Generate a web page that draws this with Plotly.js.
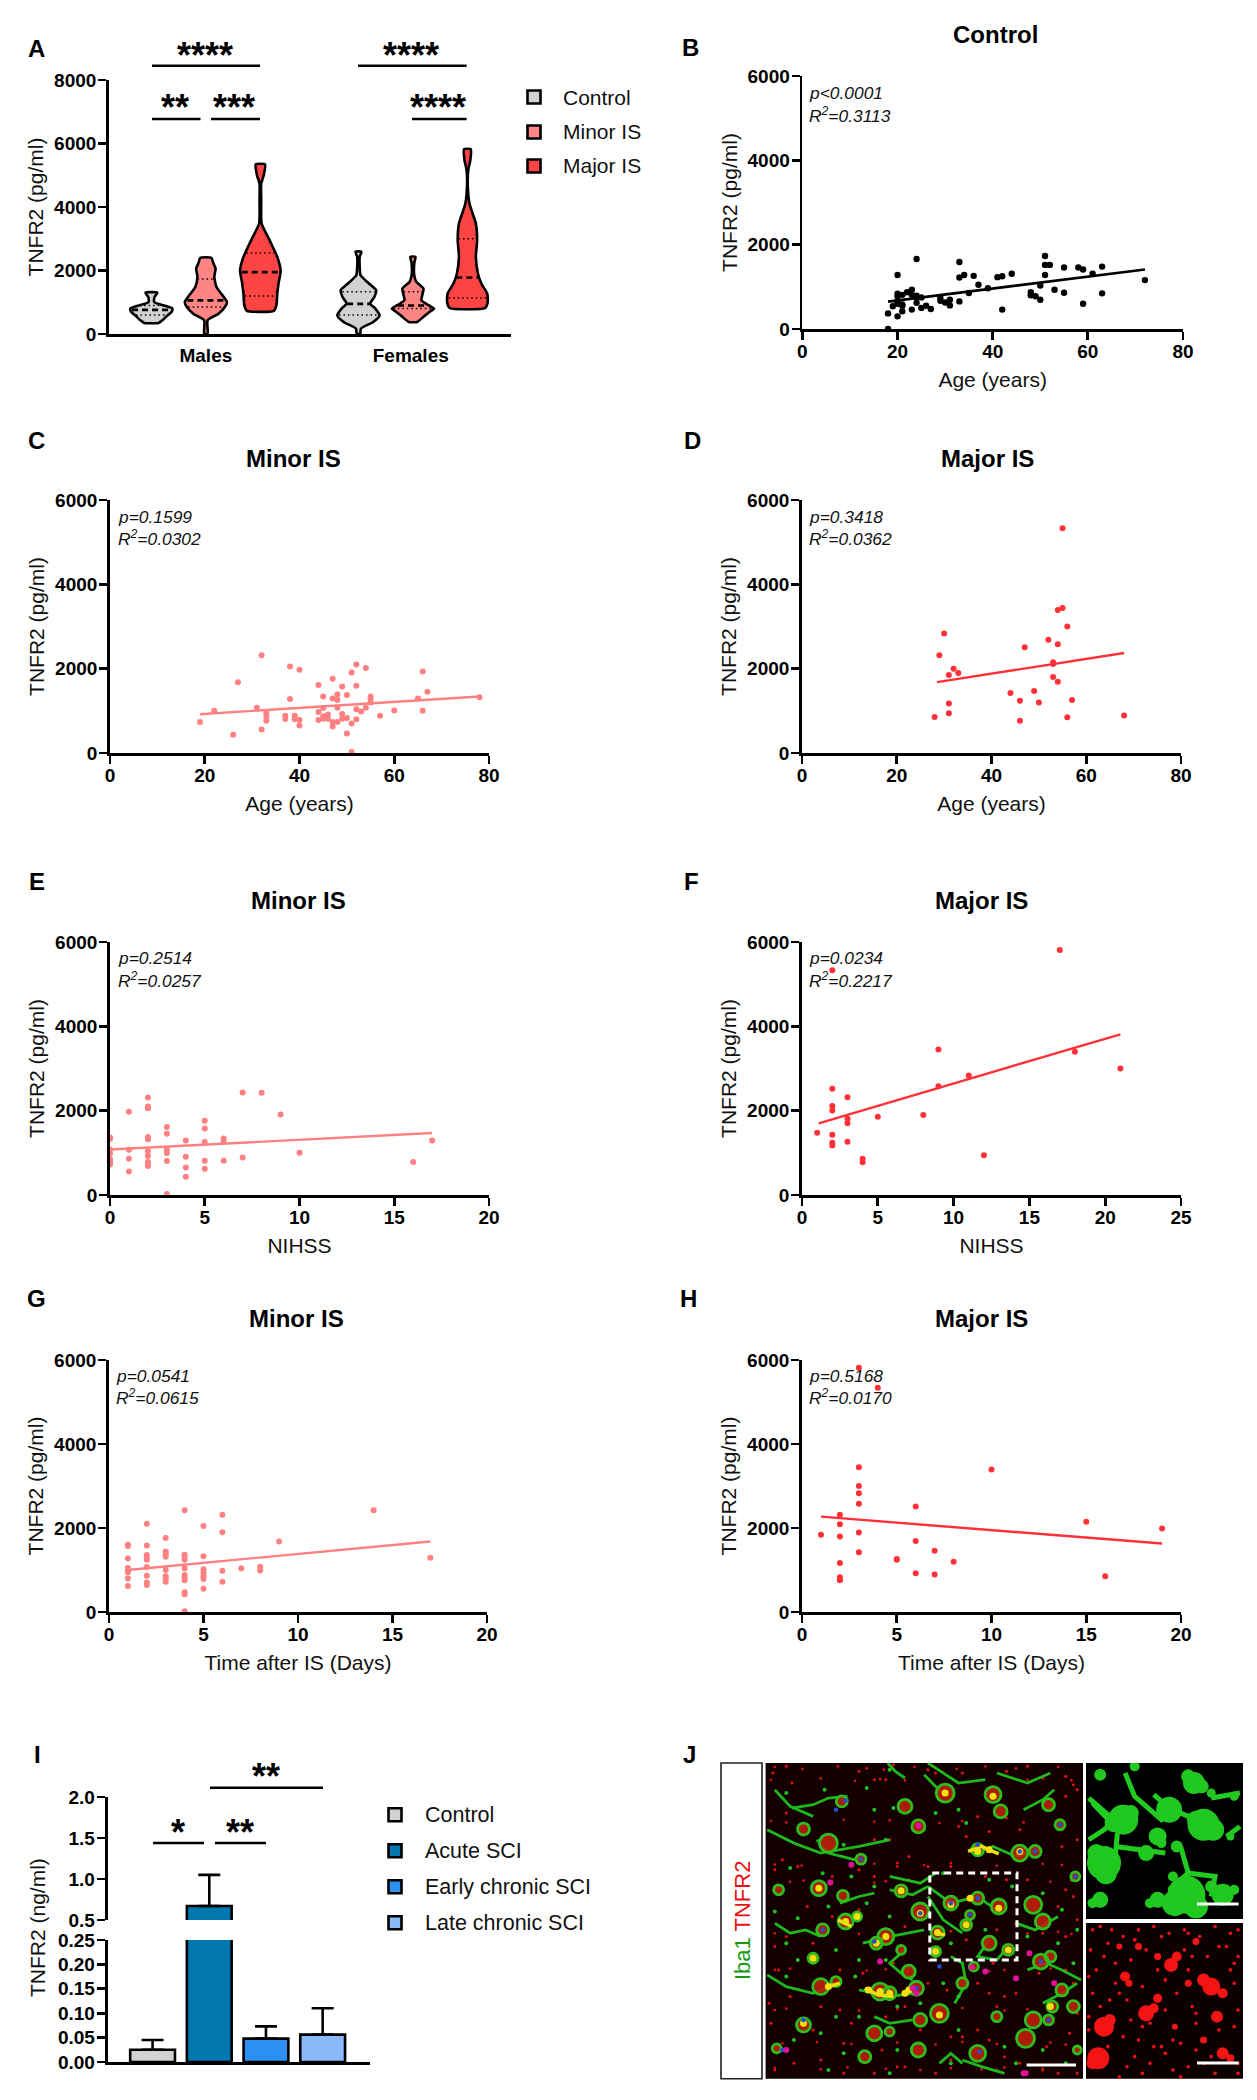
<!DOCTYPE html>
<html><head><meta charset="utf-8">
<script src="https://cdn.plot.ly/plotly-3.0.1.min.js"></script>
<style>html,body{margin:0;padding:0;background:#fff}</style></head>
<body><div id="chart" style="width:1257px;height:2100px"></div>
<script>
// ---------- Panel A: violins (value, relative half-width) ----------
const groupLabels=['Control','Minor IS','Major IS'];
const sexLabels=['Males','Females'];
const vCMy=[350,430,560,700,800,900,1000,1150,1300];
const vCMw=[17,26,36,48,50,30,7,7,14];
const vMMy=[10,430,640,850,1000,1170,1480,1800,2060,2220,2400];
const vMMw=[4,4,30,45,50,42,25,20,23,18,13];
const vJMy=[730,900,1270,1590,2000,2430,2950,3480,4200,4740,5000,5340];
const vJMw=[32,38,40,43,48,40,22,3,2,2,8,11];
const vCFy=[10,170,380,590,800,960,1170,1380,1590,1850,2110,2430,2590];
const vCFw=[4,6,35,50,40,28,38,42,25,5,3,3,7];
const vMFy=[380,540,700,800,900,1060,1220,1430,1640,1850,2220,2430];
const vMFw=[10,25,40,50,38,20,22,25,8,3,3,6];
const vJFy=[820,1000,1270,1590,1900,2430,2950,3480,4100,4640,5160,5480,5820];
const vJFw=[42,48,47,33,25,20,23,20,5,1,2,7,8];
const vMedian=[760,1060,1950,950,900,1780];
const vQ1=[600,850,1200,600,800,1130];
const vQ3=[900,1730,2550,1330,1330,3000];
// ---------- Scatter panels ----------
const bX=[18,18,19,20,20,20,20,20,20,21,21,21,21,22,23,23,23,24,24,24,24,25,25,26,27,29,29,30,31,31,33,33,33,34,35,36,37,39,41,42,42,44,48,48,49,50,50,51,51,51,52,53,55,55,58,59,59,61,63,63,72];
const bY=[370,0,540,1280,840,770,650,600,300,810,580,550,420,870,930,810,460,1660,790,735,620,750,500,550,475,735,670,630,695,560,1590,1220,655,1280,855,1260,1050,965,1230,1250,460,1310,875,800,775,1030,695,1730,1520,1280,1520,930,1460,860,1460,1410,600,1310,1480,845,1160];
const cX=[19,22,26,27,31,32,32,33,33,33,37,37,38,38,39,39,40,40,40,44,44,44,45,45,45,45,46,46,47,47,47,47,48,48,48,48,49,49,49,50,50,50,51,51,51,52,52,52,52,53,54,54,55,55,55,57,60,65,66,66,67,78];
const cY=[735,1000,435,1680,1075,2320,560,950,870,765,885,805,2050,1280,885,800,1975,780,650,1610,970,780,1340,1065,870,810,915,810,1760,1295,735,630,1390,1255,1075,735,1580,925,810,1375,830,465,1910,700,25,2100,1595,1040,800,985,2015,1075,1340,1280,1200,885,1010,1295,1935,1000,1450,1320];
const dX=[28,29,30,31,31,31,32,33,44,46,46,47,49,50,52,53,53,53,54,54,54,55,55,56,56,57,68];
const dY=[855,2320,2835,1850,1175,940,2000,1900,1420,1240,765,2510,1470,1200,2685,2150,2110,1800,3390,2580,1690,5330,3440,3000,845,1255,890];
const eX=[0,0,0,0,0,0,0,0,1,1,1,1,2,2,2,2,2,2,2,2,2,2,3,3,3,3,3,3,4,4,4,4,5,5,5,5,5,6,6,6,7,7,8,9,10,16,17];
const eY=[1365,1335,1080,985,850,805,765,725,1975,1075,860,560,2315,2100,2055,1375,1320,1040,925,780,735,685,1610,1450,1075,995,805,25,1295,910,650,435,1760,1580,1255,815,625,1340,1280,815,2430,890,2425,1910,1000,780,1295];
const fX=[1,2,2,2,2,2,2,2,3,3,3,3,4,4,5,8,9,9,11,12,17,18,21];
const fY=[1475,5330,2520,2110,2005,1430,1240,1175,2320,1810,1700,1265,860,775,1855,1900,3450,2580,2835,945,5810,3395,3000];
const gX=[1,1,1,1,1,1,1,1,2,2,2,2,2,2,2,2,2,3,3,3,3,3,3,3,3,4,4,4,4,4,4,4,4,4,4,4,5,5,5,5,5,5,5,6,6,6,6,7,8,8,9,14,17];
const gY=[1600,1570,1275,1045,990,945,800,620,2100,1585,1355,1300,1245,1070,865,700,640,1760,1440,1385,1315,1000,850,785,720,2420,1365,1310,1245,1040,880,825,755,470,420,15,2050,1330,1015,930,850,785,555,2315,1900,985,720,1040,1080,990,1680,2425,1290];
const hX=[1,2,2,2,2,2,2,3,3,3,3,3,3,3,4,5,5,6,6,6,7,7,8,10,15,16,19];
const hY=[1840,2315,2090,1800,1165,830,755,5815,3445,3000,2830,2575,1895,1420,5340,1245,1260,2510,1690,925,1460,890,1195,3390,2150,850,1990];
// fitted lines (end points)
const bLineX=[18,72], bLineY=[650,1410];
const cLineX=[19,78], cLineY=[920,1340];
const dLineX=[28.5,68], dLineY=[1680,2370];
const eLineX=[0,17], eLineY=[1080,1470];
const fLineX=[1.1,21], fLineY=[1700,3810];
const gLineX=[1,17], gLineY=[1000,1680];
const hLineX=[1,19], hLineY=[2270,1630];
const pTexts=['p&lt;0.0001','p=0.1599','p=0.3418','p=0.2514','p=0.0234','p=0.0541','p=0.5168'];
const r2Texts=['0.3113','0.0302','0.0362','0.0257','0.2217','0.0615','0.0170'];
// ---------- Panel I ----------
const sciLabels=['Control','Acute SCI','Early chronic SCI','Late chronic SCI'];
const sciMean=[0.025,0.67,0.048,0.056];
const sciErr=[0.020,0.38,0.025,0.054];
// ---------- Panel J: sketch of the micrographs, features ----------
const jCellX=[745,870,890,1015,640,475,375,440,525,675,830,940,980,1045,1085,415,310,478,630,680,760,830,885,810,800,725,485,515,590,565,910,860,720,650,630,995,1020,400,425,975,1000,420,460,575,600,670,730,1025,1080,975,1015,375,560,675,830,955,600,535,680,305,1090,880,820,790,1050];
const jCellY=[190,195,245,225,230,215,298,340,388,290,360,370,365,285,440,475,480,498,483,545,520,505,530,555,585,608,575,560,620,640,660,640,665,725,660,695,680,685,600,525,575,770,755,785,790,775,850,830,830,870,870,885,910,960,970,925,905,980,870,955,960,860,710,760,780];
const jCellS=[18,16,13,12,14,11,12,18,10,13,12,16,12,10,9,15,10,11,12,17,14,12,15,9,11,13,15,9,16,12,11,14,10,13,9,15,11,10,12,17,15,16,10,17,13,14,18,11,12,16,10,14,15,14,16,18,9,12,13,9,8,10,9,11,12];
const jBrightX=[630,680,485,515,565,725,800,885,575,600,415,640,650,720,910,745,870,830,860,545,440,400,1020,760,810,590,940,375,730];
const jBrightY=[483,550,575,560,640,608,585,535,785,790,475,790,780,665,660,190,200,365,360,780,770,685,830,525,505,620,365,880,855];
const jBlueX=[485,460,525,830,940,980,1045,1085,560,680,760,810,830,995,425,730,375,1015,835,670,320];
const jBlueY=[212,240,388,345,365,365,285,440,635,550,520,555,505,695,600,710,870,870,965,775,960];
const jMagentaX=[675,500,660,670,965,930,1030,815,850,955,575,950,330,445];
const jMagentaY=[288,405,775,790,670,745,760,712,725,1030,695,1030,960,458];
const jRedX=[295,330,345,520,560,590,610,700,720,790,905,960,1060,1080,1090,780,800,830,860,905,940,1060,1050,1090,300,320,330,360,450,520,560,600,560,620,650,700,760,850,905,960,1060,1080,1040,330,385,450,520,600,640,720,800,880,930,1000,1060,1090,300,310,400,470,530,610,700,750,830,870,1060,1080,1020,990,900,860];
const jRedY=[130,110,160,125,150,150,105,120,130,130,125,110,140,165,180,290,320,260,305,265,300,200,350,330,420,390,250,410,440,420,330,330,440,400,380,410,410,440,450,450,480,500,530,620,530,560,540,560,590,610,630,600,580,610,620,570,650,720,640,720,730,700,760,780,760,700,720,760,690,730,800,790];
const jRed2X=[285,340,420,470,500,590,640,680,760,830,880,930,1010,1070,300,350,420,480,560,640,720,790,860,900,940,1000,1060,1090,290,400,480,580,620,760,880,1040,1090];
const jRed2Y=[820,800,830,840,880,860,830,900,920,900,830,790,950,910,1020,1000,990,1030,1030,1010,1030,920,930,980,1000,1020,1000,1030,880,900,940,960,1010,990,1020,1030,850];
const jRed3X=[300,372,465,540,585,665,775,850,930,1040,290,420,510,575,640,700,825,960,1000,1075,290,330,480,560,600,730,790,950,300,370,560,620,690,760,880,1000,1050,340,375,560,590,650,1020,1075,300,350,520,760,960,1040,1075,300,340,540,590,860,900,1020,1060,300,330,520,620,790,900,960,320,410,500,620,720,790,880,1020,1060,300,420,490,590,680,760,840,900,1000];
const jRed3Y=[112,118,110,116,120,112,118,110,116,112,150,146,154,148,152,146,154,150,146,152,274,278,270,276,272,280,274,278,404,408,402,410,406,400,408,402,406,456,452,458,454,450,456,452,610,606,612,604,610,606,612,720,716,722,718,724,720,716,722,840,836,842,838,834,842,838,940,936,942,938,944,936,942,938,944,1014,1018,1012,1016,1020,1014,1018,1012,1016];
const jGreenDotX=[330,430,540,600,610,560,720,780,800,590,480,340,425,500,560,300,360,440,540,600,740,860,920,1000,1050,960,1040,330,360,460,520,590,760,850,330,510,740,780,680,620,520,460,420,350,480,620,780,900,930,1000,1060,760,600,440,1080,1090];
const jGreenDotY=[190,180,175,120,235,240,250,240,280,330,345,415,430,440,470,545,565,530,520,560,430,450,470,490,540,620,640,640,690,660,690,690,640,600,740,740,760,800,820,830,860,860,910,930,970,960,900,950,1000,960,1000,1000,1030,1020,700,600];
const jFiberX=[345,400,440,490,null,410,440,510,null,690,720,750,null,600,660,700,null,700,760,830,890,null,280,330,400,470,null,520,600,660,null,280,350,420,520,600,null,770,800,790,760,null,820,870,930,990,null,600,680,720,null,860,830,880,910,null,700,740,790,null,530,600,690,null,960,1010,1050,1100,null,1000,1050,1090,null,790,840,900,null,560,600,660,null,300,340,400,null,470,520,560,null,950,1000,1030,null,640,600,630,660,null,930,980,1040,null,880,960,1020,null,420,380,340,300,null,595,615,640,null,700,780,850,null,790,760,730];
const jFiberY=[235,225,205,200,null,330,370,390,null,135,170,200,null,480,495,470,null,470,520,500,550,null,735,770,790,760,null,780,800,790,null,300,340,370,350,330,null,820,760,700,680,null,370,350,380,360,null,440,460,430,null,630,680,690,650,null,500,570,610,null,640,620,600,null,720,700,720,750,null,820,790,760,null,990,1010,1030,null,860,880,870,null,180,230,260,null,520,500,490,null,240,210,180,null,660,700,730,750,null,580,600,560,null,130,160,130,null,620,600,610,580,null,100,125,145,null,100,160,150,null,1000,970,1000];
const jYellowLineX=[805,840,885,null,535,570,610,null,465,500,null,440,470,null,720,745];
const jYellowLineY=[365,350,372,null,775,795,800,null,570,590,null,770,760,null,610,615];
const jGreenBlobX=[1210,1160,1420,1330,1300,1395,1270,1375,1470,1150,1300,1240,1150,1440,1500,1350,1185,1230,1445,1400,1345,1400,1440,1130,1165,1140,1310,1280,1340,1380,1415,1500,1490];
const jGreenBlobY=[270,400,285,240,320,160,370,495,495,510,510,110,135,190,200,350,280,250,300,270,520,530,470,520,430,370,340,520,440,140,170,480,320];
const jGreenBlobS=[30,34,32,26,18,22,16,38,22,16,16,10,12,9,9,12,18,16,22,18,26,24,12,10,22,18,10,10,10,14,14,10,8];
const jGreenLineX=[1120,1170,1210,null,1215,1240,1310,1340,null,1290,1330,1420,null,1195,1190,1160,null,1190,1260,1320,null,1330,1380,1450,1440,null,1440,1515,null,1480,1515,null,1360,1380,1340,null,1130,1180,null,1120,1160,1200];
const jGreenLineY=[205,255,270,null,130,200,270,240,null,195,235,280,null,310,370,400,null,350,360,370,null,480,430,440,500,null,205,190,null,320,290,null,350,430,480,null,220,280,null,330,300,260];
const jRedBlobX=[1160,1145,1440,1335,1270,1455,1470,1215,1300,1400,1380,1250,1420,1345,1200,1300,1175,1130,1420,1470,1350,1290,1225,1490];
const jRedBlobY=[890,985,770,705,850,860,970,740,805,635,760,650,930,890,650,680,870,1000,750,790,680,835,760,985];
const jRedBlobS=[20,22,18,14,16,12,12,10,9,7,7,7,7,6,6,7,12,12,13,10,10,10,7,8];
const jRedDotX=[1130,1150,1180,1210,1250,1290,1330,1370,1410,1450,1490,1510,1125,1170,1240,1270,1390,1480,1510,1140,1190,1230,1320,1370,1490,1130,1200,1260,1320,1380,1500,1220,1260,1320,1390,1510,1120,1210,1250,1310,1360,1400,1500,1220,1280,1340,1400,1450,1510,1200,1260,1320,1380,1420,1510,1160,1190,1300,1350,1430,1120,1150,1280,1340,1460,1170,1240,1360,1440,1120,1175,1230,1290,1400,1500,1240,1310,1380,1460];
const jRedDotY=[600,590,600,620,600,590,610,600,620,590,610,600,660,640,630,660,680,650,680,720,700,690,750,660,720,790,790,770,750,720,760,810,890,840,830,840,860,920,930,950,940,850,890,1010,1000,1020,960,1030,1000,1040,1030,970,1010,1000,1030,680,760,720,790,680,740,830,880,930,900,950,980,1040,980,900,810,870,950,880,700,630,620,610,650];
// ----------------------------------------------------------------------------

const W=1257,H=2100;
const FONT='"Liberation Sans", Arial, sans-serif';
const INK='#111111';
const COL={control:'#D2D2D2',minor:'#FF8585',major:'#FF4444',dotMinor:'#FF8080',dotMajor:'#FF3038',dotCtl:'#000000'};
const px=x=>x/W, py=y=>1-y/H;
const shapes=[], ann=[], data=[], layout={};

function text(x,y,t,o={}){
  ann.push(Object.assign({xref:'paper',yref:'paper',x:px(x),y:py(y),text:t,showarrow:false,xanchor:'center',yanchor:'middle',
    font:Object.assign({family:FONT,size:21,color:INK},o.font||{})},o.extra||{}));
}
function hline(x0,x1,y,w=2.6){shapes.push({type:'line',xref:'paper',yref:'paper',x0:px(x0),x1:px(x1),y0:py(y),y1:py(y),line:{color:'#000',width:w}});}
function legendBox(cx,cy,c){const s=6.5;shapes.push({type:'rect',xref:'paper',yref:'paper',x0:px(cx-s),x1:px(cx+s),y0:py(cy+s),y1:py(cy-s),fillcolor:c,line:{color:'#000',width:2.6}});}
function stars(x,y,t){text(x,y+8,t,{font:{size:36,weight:700,color:'#000'}});}
function letter(x,y,t){text(x,y,t,{font:{size:24,weight:700,color:'#000'}});}
function axisBase(){return {showgrid:false,zeroline:false,showline:true,linecolor:'#000',linewidth:2.8,ticks:'outside',ticklen:8,tickwidth:2.8,tickcolor:'#000',
  tickfont:{family:FONT,size:19,weight:700,color:'#000'},fixedrange:true};}
function addAxes(n,x0,x1,y0,y1,xo,yo){
  const s=n===1?'':n;
  layout['xaxis'+s]=Object.assign(axisBase(),{domain:[px(x0),px(x1)],anchor:'y'+s},xo);
  layout['yaxis'+s]=Object.assign(axisBase(),{domain:[py(y1),py(y0)],anchor:'x'+s,ticklabelstandoff:-2},yo);
}
const axTitle=(t,standoff)=>({text:t,standoff:standoff,font:{family:FONT,size:21,color:INK}});

// --- Panel A ---
addAxes(1,109,511,80,334,{range:[0.222,7.6],tickvals:[2,5.76],ticktext:sexLabels,tickcolor:'rgba(0,0,0,0)',ticklen:6,ticklabelstandoff:-4},
  {range:[0,8000],tickvals:[0,2000,4000,6000,8000],title:axTitle('TNFR2 (pg/ml)',5)});
const violinPos=[1,2,3,4.8,5.8,6.8];
const violinFill=[COL.control,COL.minor,COL.major,COL.control,COL.minor,COL.major];
const violinShapes=[[vCMy,vCMw],[vMMy,vMMw],[vJMy,vJMw],[vCFy,vCFw],[vMFy,vMFw],[vJFy,vJFw]];
const DENS=1/129;
function interp(ys,ws,v){for(let i=1;i<ys.length;i++){if(v<=ys[i]){const t=(v-ys[i-1])/(ys[i]-ys[i-1]);return ws[i-1]+t*(ws[i]-ws[i-1]);}}return ws[ws.length-1];}
violinShapes.forEach((vs,i)=>{
  const [ys,ws]=vs,c=violinPos[i];
  const xs=[...ws.map(w=>c-w*DENS),...ws.slice().reverse().map(w=>c+w*DENS)];
  const yy=[...ys,...ys.slice().reverse()];
  xs.push(xs[0]);yy.push(yy[0]);
  data.push({type:'scatter',mode:'lines',x:xs,y:yy,xaxis:'x',yaxis:'y',fill:'toself',fillcolor:violinFill[i],line:{color:'#000',width:2.6,shape:'spline',smoothing:0.55},hoverinfo:'skip',showlegend:false});
  const seg=(v,dash,w)=>{const h=(interp(ys,ws,v)*DENS)*0.93;data.push({type:'scatter',mode:'lines',x:[c-h,c+h],y:[v,v],xaxis:'x',yaxis:'y',line:{color:'#000',width:w,dash:dash},hoverinfo:'skip',showlegend:false});};
  seg(vMedian[i],'6px,4px',2.6);seg(vQ1[i],'1.5px,3px',1.5);seg(vQ3[i],'1.5px,3px',1.5);
});
hline(152,260,65.7);hline(358,466.6,65.7);hline(152,200.5,119);hline(211,260,119);hline(412,466.6,119);
stars(205,47.5,'****');stars(411,47.5,'****');stars(175,100,'**');stars(234.5,100,'***');stars(438,100,'****');
[[97,COL.control],[132,COL.minor],[166,COL.major]].forEach((r,i)=>{legendBox(534,r[0],r[1]);text(561,r[0],groupLabels[i],{extra:{xanchor:'left'}});});

// --- Scatter panels ---
const sc=[
 {n:2,box:[802.4,1183,76,329],xr:80,dt:20,X:bX,Y:bY,lx:bLineX,ly:bLineY,c:COL.dotCtl,lw:2.6,xt:'Age (years)',tx:995.5,ty:34,title:'Control',ptx:807,pty:92.7,rty:115,ms:6.4,let:[690.6,47.7,'B']},
 {n:3,box:[110,489,500,753],xr:80,dt:20,X:cX,Y:cY,lx:cLineX,ly:cLineY,c:COL.dotMinor,lw:2.4,xt:'Age (years)',tx:293,ty:458,title:'Minor IS',ptx:115.5,pty:516.7,rty:538,ms:6,let:[36.7,440,'C']},
 {n:4,box:[802,1181,500,753],xr:80,dt:20,X:dX,Y:dY,lx:dLineX,ly:dLineY,c:COL.dotMajor,lw:2.4,xt:'Age (years)',tx:987,ty:458,title:'Major IS',ptx:807,pty:516.7,rty:538,ms:6,let:[692.7,440,'D']},
 {n:5,box:[110,489,942,1195],xr:20,dt:5,X:eX,Y:eY,lx:eLineX,ly:eLineY,c:COL.dotMinor,lw:2.4,xt:'NIHSS',tx:298.7,ty:900.7,title:'Minor IS',ptx:115.5,pty:958,rty:979.7,ms:6,let:[37,881,'E']},
 {n:6,box:[802,1181,942,1195],xr:25,dt:5,X:fX,Y:fY,lx:fLineX,ly:fLineY,c:COL.dotMajor,lw:2.4,xt:'NIHSS',tx:981.7,ty:900.7,title:'Major IS',ptx:807,pty:958,rty:979.7,ms:6,let:[691.7,881,'F']},
 {n:7,box:[109,487,1360,1612],xr:20,dt:5,X:gX,Y:gY,lx:gLineX,ly:gLineY,c:COL.dotMinor,lw:2.4,xt:'Time after IS (Days)',tx:296.7,ty:1318,title:'Minor IS',ptx:114,pty:1376,rty:1397.3,ms:6,let:[36.7,1298,'G']},
 {n:8,box:[802,1181,1360,1612],xr:20,dt:5,X:hX,Y:hY,lx:hLineX,ly:hLineY,c:COL.dotMajor,lw:2.4,xt:'Time after IS (Days)',tx:981,ty:1318,title:'Major IS',ptx:807,pty:1376,rty:1397.3,ms:6,let:[689,1298,'H']}
];
sc.forEach((p,i)=>{
  const s=p.n;
  addAxes(s,p.box[0],p.box[1],p.box[2],p.box[3],
    {range:[0,p.xr],dtick:p.dt,tick0:0,ticklabelstandoff:-5,title:axTitle(p.xt,12)},
    {range:[0,6000],dtick:2000,tick0:0,title:axTitle('TNFR2 (pg/ml)',5)});
  data.push({type:'scatter',mode:'markers',x:p.X,y:p.Y,xaxis:'x'+s,yaxis:'y'+s,marker:{color:p.c,size:p.ms},cliponaxis:false,hoverinfo:'skip',showlegend:false});
  data.push({type:'scatter',mode:'lines',x:p.lx,y:p.ly,xaxis:'x'+s,yaxis:'y'+s,line:{color:p.c,width:p.lw},hoverinfo:'skip',showlegend:false});
  text(p.tx,p.ty,p.title,{font:{size:24,weight:700,color:'#000'}});
  const it={size:17.4,color:INK,style:'italic'};
  text(p.ptx,p.pty,pTexts[i],{font:it,extra:{xanchor:'left'}});
  text(p.ptx,p.rty,'R<sup>2</sup>='+r2Texts[i],{font:it,extra:{xanchor:'left'}});
  letter(p.let[0],p.let[1],p.let[2]);
});
letter(36,48,'A');letter(37,1754,'I');letter(689.5,1754,'J');

// --- Panel I: broken axis ---
addAxes(9,107.5,370,1940,2062,{range:[-0.795,3.835],type:'category',categoryorder:'array',categoryarray:sciLabels,showticklabels:false,ticks:''},
  {range:[0,0.25],tickvals:[0,0.05,0.1,0.15,0.2,0.25],tickformat:'.2f'});
layout.yaxis10=Object.assign(axisBase(),{domain:[py(1920),py(1797)],anchor:'x9',range:[0.5,2],tickvals:[0.5,1,1.5,2],tickformat:'.1f',ticklabelstandoff:-2});
const sciColors=[COL.control,'#0077AE','#2B90F0','#8AB9FA'];
const errs=on=>({type:'data',symmetric:false,array:sciErr.map((e,i)=>on(i)?e:0),arrayminus:[0,0,0,0],color:'#000',thickness:2.6,width:11,visible:true});
data.push({type:'bar',x:sciLabels,y:sciMean,xaxis:'x9',yaxis:'y9',width:0.79,marker:{color:sciColors,line:{color:'#000',width:2.6}},error_y:errs(i=>i!==1),hoverinfo:'skip',showlegend:false});
data.push({type:'bar',x:sciLabels,y:sciMean.map((v,i)=>i===1?v:null),xaxis:'x9',yaxis:'y10',width:0.79,marker:{color:sciColors,line:{color:'#000',width:2.6}},error_y:errs(i=>i===1),hoverinfo:'skip',showlegend:false});
layout.barmode='overlay';
text(37,1928,'TNFR2 (ng/ml)',{extra:{textangle:-90}});
hline(210,323,1787.7);hline(153,204,1843);hline(215,266,1843);
stars(265.5,1768,'**');stars(177.5,1824,'*');stars(240,1824,'**');
[1814.7,1850.7,1886.7,1922.7].forEach((y,i)=>{legendBox(395,y,sciColors[i]);text(423,y,sciLabels[i],{font:{size:21.5},extra:{xanchor:'left'}});});

// --- Panel J: sketch of the images ---
const JX=[765.6,1243],JY=[1763,2078.7];
layout.xaxis11={domain:[px(JX[0]),px(JX[1])],anchor:'y11',range:[276,1523],visible:false,fixedrange:true};
layout.yaxis11={domain:[py(JY[1]),py(JY[0])],anchor:'x11',range:[1046,100],visible:false,fixedrange:true};
function rectPx(x0,x1,y0,y1,fill,ln,layer){shapes.push({type:'rect',xref:'paper',yref:'paper',x0:px(x0),x1:px(x1),y0:py(y1),y1:py(y0),fillcolor:fill,line:ln||{width:0},layer:layer||'below'});}
rectPx(721,762,1763,2078.7,'#fff',{color:'#222',width:1.6});
rectPx(JX[0],1083,JY[0],JY[1],'#140000');
rectPx(1086,1243,1763,1919,'#000');
rectPx(1086,1243,1923,2078.7,'#0c0000');
const jm=(x,y,c,s,o)=>data.push({type:'scatter',mode:'markers',x,y,xaxis:'x11',yaxis:'y11',marker:Object.assign({color:c,size:s,opacity:1,line:{width:0}},o||{}),hoverinfo:'skip',showlegend:false});
const jl=(x,y,c,w)=>data.push({type:'scatter',mode:'lines',x,y,xaxis:'x11',yaxis:'y11',connectgaps:false,line:{color:c,width:w},hoverinfo:'skip',showlegend:false});
jm(jRedX,jRedY,'#E81010',3);
jm(jRed2X,jRed2Y,'#E81010',3);
jm(jRed3X,jRed3Y,'#E81010',2.6);
jl(jFiberX,jFiberY,'#1EB81E',2.8);
jm(jGreenDotX,jGreenDotY,'#22C022',4);
jm(jCellX,jCellY,'rgba(190,30,10,0.9)',jCellS);
jm(jCellX,jCellY,'rgba(0,0,0,0)',jCellS,{line:{color:'#2CC01C',width:2.8}});
jl(jYellowLineX,jYellowLineY,'#EADF10',3.5);
jm(jBrightX,jBrightY,'#F2E010',7);
jm(jBlueX,jBlueY,'#2050D0',4.5);
jm(jMagentaX,jMagentaY,'#E0109A',6);
jl(jGreenLineX,jGreenLineY,'#20CC20',5);
jm(jGreenBlobX,jGreenBlobY,'#20C820',jGreenBlobS);
jm(jRedBlobX,jRedBlobY,'#F41414',jRedBlobS);
jm(jRedDotX,jRedDotY,'#F01010',3.6);
// white gutters and overlays
rectPx(1083,1086,1763,2078.7,'#fff',null,'above');
rectPx(1086,1243,1919,1923,'#fff',null,'above');
shapes.push({type:'rect',xref:'paper',yref:'paper',x0:px(929.8),x1:px(1017),y0:py(1960),y1:py(1873),line:{color:'#fff',width:3,dash:'7px,5px'},fillcolor:'rgba(0,0,0,0)',layer:'above'});
const bar=(x0,x1,y)=>shapes.push({type:'line',xref:'paper',yref:'paper',x0:px(x0),x1:px(x1),y0:py(y),y1:py(y),line:{color:'#fff',width:3},layer:'above'});
bar(1026.6,1076,2065);bar(1197,1238.6,1904);bar(1197,1238.6,2063);
text(742,1921,'<span style="color:#149A14">Iba1</span> <span style="color:#E81010">TNFR2</span>',{font:{size:22},extra:{textangle:-90}});

Object.assign(layout,{width:W,height:H,margin:{l:0,r:0,t:0,b:0},paper_bgcolor:'#fff',plot_bgcolor:'rgba(0,0,0,0)',showlegend:false,shapes,annotations:ann,font:{family:FONT}});
Plotly.newPlot('chart',data,layout,{staticPlot:true,displayModeBar:false});
</script></body></html>
